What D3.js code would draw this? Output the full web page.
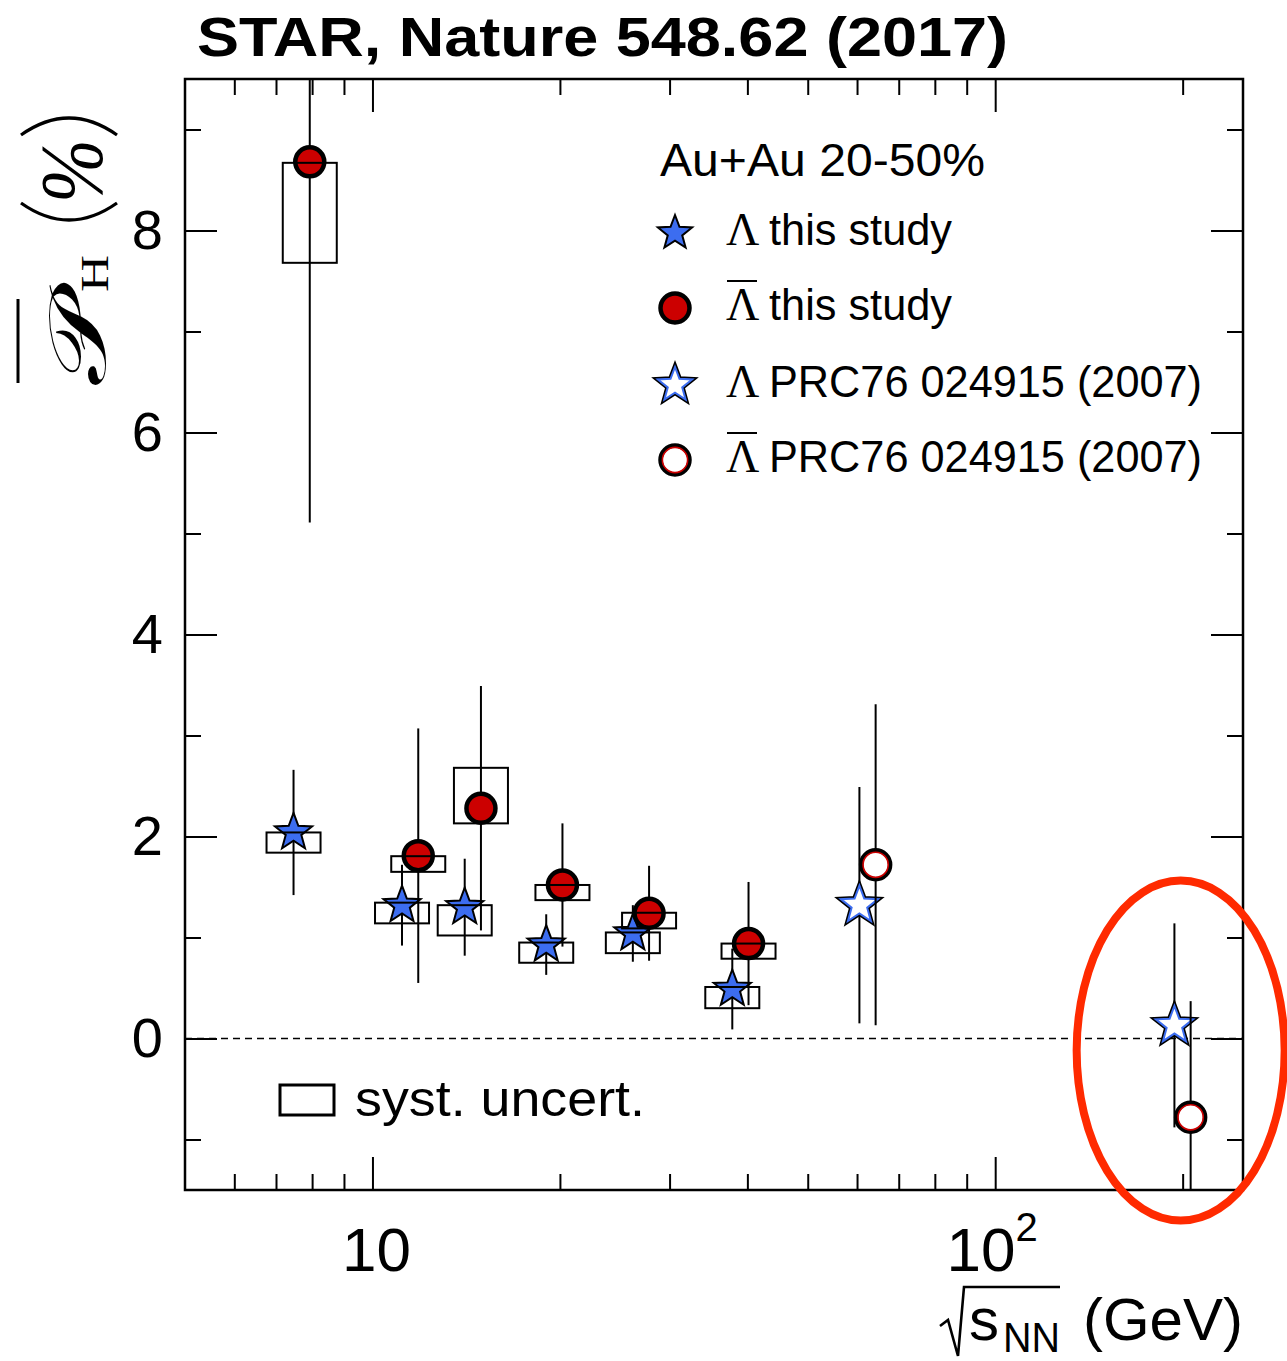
<!DOCTYPE html>
<html>
<head>
<meta charset="utf-8">
<script src="https://cdn.jsdelivr.net/npm/d3@7"></script>
<style>
  body { margin: 0; background: #fff; }
  svg { display: block; font-family: "Liberation Sans", Arial, Helvetica, sans-serif; }
  text { fill: #000; }
</style>
</head>
<body>
<svg id="chart" width="1287" height="1361"></svg>
<script>
// beam energies (GeV) of this study
const energies = [7.7, 11.5, 14.5, 19.6, 27, 39];

// Lambda, this study
const lamVal = [2.04, 1.32, 1.30, 0.93, 1.04, 0.49];
const lamStat = [0.62, 0.40, 0.48, 0.30, 0.28, 0.40];
const lamSystLo = [1.84, 1.14, 1.02, 0.75, 0.845, 0.30];
const lamSystHi = [2.04, 1.345, 1.32, 0.95, 1.05, 0.51];

// anti-Lambda, this study
const alamVal = [8.68, 1.81, 2.28, 1.52, 1.24, 0.94];
const alamStat = [3.57, 1.26, 1.21, 0.61, 0.47, 0.61];
const alamSystLo = [7.68, 1.65, 2.13, 1.37, 1.09, 0.79];
const alamSystHi = [8.67, 1.805, 2.68, 1.52, 1.245, 0.94];

// PRC76 024915 (2007)
const oldEnergies = [62.4, 200];
const oldLamVal = [1.32, 0.13];
const oldLamStat = [1.17, 1.01];
const oldAlamVal = [1.72, -0.78];
const oldAlamStat = [1.59, 1.15];

// axis ticks
const xMajor = [10, 100];
const xMinor = [6, 7, 8, 9, 20, 30, 40, 50, 60, 70, 80, 90, 200];
const yMajor = [0, 2, 4, 6, 8];
const yMinor = [-1, 1, 3, 5, 7, 9];

// points are shifted sideways so they don't overlap
const lamShift = 0.97;
const alamShift = 1.03;
const boxHalf = 1.105; // syst box half width, as a factor in energy

const blue = "#3c6df0";
const red = "#cc0000";
const serif = "'Liberation Serif', 'Times New Roman', serif";

const width = 1287;
const height = 1361;
const margin = { top: 79, right: 44, bottom: 171, left: 185 };

const svg = d3.select("#chart");

const x = d3.scaleLog()
  .domain([5, 250])
  .range([margin.left, width - margin.right]);

const y = d3.scaleLinear()
  .domain([-1.5, 9.5])
  .range([height - margin.bottom, margin.top]);

function starPath(R, r) {
  const pts = [];
  for (let i = 0; i < 10; i++) {
    const a = -Math.PI / 2 + i * Math.PI / 5;
    const rad = i % 2 === 0 ? R : r;
    pts.push([rad * Math.cos(a), rad * Math.sin(a)]);
  }
  return "M" + pts.map(function (p) { return p[0].toFixed(2) + "," + p[1].toFixed(2); }).join("L") + "Z";
}

const STAR = starPath(19.5, 8.2);
const STAR_LEG = starPath(18, 7.6);

function drawStar(g, cx, cy, open, d) {
  d = d || STAR;
  if (open) {
    g.append("path").attr("d", d).attr("transform", `translate(${cx},${cy})`)
      .attr("fill", "#fff").attr("stroke", "#000").attr("stroke-width", 5);
    g.append("path").attr("d", d).attr("transform", `translate(${cx},${cy})`)
      .attr("fill", "#fff").attr("stroke", blue).attr("stroke-width", 2);
  } else {
    g.append("path").attr("d", d).attr("transform", `translate(${cx},${cy})`)
      .attr("fill", blue).attr("stroke", "#000").attr("stroke-width", 2);
  }
}

function drawCircle(g, cx, cy, open) {
  g.append("circle").attr("cx", cx).attr("cy", cy).attr("r", 14.5)
    .attr("fill", open ? "#fff" : red).attr("stroke", "#000").attr("stroke-width", 4.5);
  if (open) {
    g.append("circle").attr("cx", cx).attr("cy", cy).attr("r", 12.6)
      .attr("fill", "none").attr("stroke", red).attr("stroke-width", 1.6);
  }
}

// clip to the frame
svg.append("clipPath").attr("id", "frame")
  .append("rect")
  .attr("x", margin.left).attr("y", margin.top)
  .attr("width", width - margin.left - margin.right)
  .attr("height", height - margin.top - margin.bottom);

// zero line
svg.append("line")
  .attr("x1", x(5)).attr("x2", x(250))
  .attr("y1", y(0)).attr("y2", y(0))
  .attr("stroke", "#000").attr("stroke-width", 1.4)
  .attr("stroke-dasharray", "7,5");

const plot = svg.append("g").attr("clip-path", "url(#frame)");

function drawSeries(ens, shift, vals, stat, lo, hi, marker, open) {
  const g = plot.append("g");
  ens.forEach(function (e, i) {
    const xe = e * shift;
    g.append("line")
      .attr("x1", x(xe)).attr("x2", x(xe))
      .attr("y1", y(vals[i] + stat[i])).attr("y2", y(vals[i] - stat[i]))
      .attr("stroke", "#000").attr("stroke-width", 2);
  });
  ens.forEach(function (e, i) {
    const xe = e * shift;
    if (marker === "star") drawStar(g, x(xe), y(vals[i]), open);
    else drawCircle(g, x(xe), y(vals[i]), open);
  });
  if (lo) {
    ens.forEach(function (e, i) {
      const xe = e * shift;
      g.append("rect")
        .attr("x", x(xe / boxHalf))
        .attr("y", y(hi[i]))
        .attr("width", x(xe * boxHalf) - x(xe / boxHalf))
        .attr("height", y(lo[i]) - y(hi[i]))
        .attr("fill", "none").attr("stroke", "#000").attr("stroke-width", 2);
    });
  }
}

drawSeries(oldEnergies, lamShift, oldLamVal, oldLamStat, null, null, "star", true);
drawSeries(energies, lamShift, lamVal, lamStat, lamSystLo, lamSystHi, "star", false);
drawSeries(oldEnergies, alamShift, oldAlamVal, oldAlamStat, null, null, "circle", true);
drawSeries(energies, alamShift, alamVal, alamStat, alamSystLo, alamSystHi, "circle", false);

// axes (ticks point inwards, ROOT style)
const x0 = height - margin.bottom;
const y0 = margin.top;

function styleAxis(g) {
  g.select(".domain").remove();
  g.selectAll(".tick line").attr("stroke", "#000").attr("stroke-width", 2);
}

svg.append("g").attr("transform", `translate(0,${x0})`)
  .call(d3.axisBottom(x).tickValues(xMajor).tickSize(-33).tickFormat("")).call(styleAxis);
svg.append("g").attr("transform", `translate(0,${x0})`)
  .call(d3.axisBottom(x).tickValues(xMinor).tickSize(-16).tickFormat("")).call(styleAxis);
svg.append("g").attr("transform", `translate(0,${y0})`)
  .call(d3.axisTop(x).tickValues(xMajor).tickSize(-33).tickFormat("")).call(styleAxis);
svg.append("g").attr("transform", `translate(0,${y0})`)
  .call(d3.axisTop(x).tickValues(xMinor).tickSize(-16).tickFormat("")).call(styleAxis);

const leftAxis = svg.append("g").attr("transform", `translate(${margin.left},0)`)
  .call(d3.axisLeft(y).tickValues(yMajor).tickSize(-32).tickPadding(22).tickFormat(d3.format("d")))
  .call(styleAxis);
leftAxis.selectAll(".tick text")
  .style("font-size", "56px")
  .style("font-family", "'Liberation Sans', Arial, sans-serif")
  .attr("fill", "#000");
svg.append("g").attr("transform", `translate(${margin.left},0)`)
  .call(d3.axisLeft(y).tickValues(yMinor).tickSize(-16).tickFormat("")).call(styleAxis);
svg.append("g").attr("transform", `translate(${width - margin.right},0)`)
  .call(d3.axisRight(y).tickValues(yMajor).tickSize(-32).tickFormat("")).call(styleAxis);
svg.append("g").attr("transform", `translate(${width - margin.right},0)`)
  .call(d3.axisRight(y).tickValues(yMinor).tickSize(-16).tickFormat("")).call(styleAxis);

// frame
svg.append("rect")
  .attr("x", margin.left).attr("y", margin.top)
  .attr("width", width - margin.left - margin.right)
  .attr("height", height - margin.top - margin.bottom)
  .attr("fill", "none").attr("stroke", "#000").attr("stroke-width", 2.5);

// x tick labels
svg.append("text")
  .attr("x", x(10) + 4).attr("y", 1271)
  .attr("text-anchor", "middle").style("font-size", "62px")
  .text("10");
const lab100 = svg.append("text")
  .attr("x", x(100) - 3).attr("y", 1271)
  .attr("text-anchor", "middle").style("font-size", "62px");
lab100.append("tspan").text("10");
lab100.append("tspan").attr("dy", -30).style("font-size", "40px").text("2");

// x title: sqrt(s_NN) (GeV)
svg.append("path")
  .attr("d", "M940,1326 L948,1320 L958,1356 L964,1287 L1060,1287")
  .attr("fill", "none").attr("stroke", "#000").attr("stroke-width", 2.6)
  .attr("stroke-linejoin", "miter");
svg.append("text").attr("x", 969).attr("y", 1340).style("font-size", "60px").text("s");
svg.append("text").attr("x", 1003).attr("y", 1352).style("font-size", "42px")
  .attr("textLength", 57).attr("lengthAdjust", "spacingAndGlyphs").text("NN");
svg.append("text").attr("x", 1243).attr("y", 1340).style("font-size", "60px")
  .attr("text-anchor", "end").text("(GeV)");

// y title: P_H (%), rotated
const yt = svg.append("g").attr("transform", "translate(105,385) rotate(-90)");
yt.append("text").attr("x", 0).attr("y", 0)
  .style("font-family", "'DejaVu Serif', 'Liberation Serif', serif")
  .style("font-size", "80px")
  .attr("textLength", 90).attr("lengthAdjust", "spacingAndGlyphs")
  .text("\u{1D4AB}");
yt.append("line").attr("x1", 2).attr("x2", 86).attr("y1", -87).attr("y2", -87)
  .attr("stroke", "#000").attr("stroke-width", 3);
yt.append("text").attr("x", 93).attr("y", 3)
  .style("font-family", serif)
  .style("font-size", "40px")
  .attr("textLength", 37).attr("lengthAdjust", "spacingAndGlyphs")
  .text("H");
// tall thin parentheses
yt.append("path").attr("d", "M182,-84 Q148,-36 182,12")
  .attr("fill", "none").attr("stroke", "#000").attr("stroke-width", 3.2);
yt.append("path").attr("d", "M250,-84 Q284,-36 250,12")
  .attr("fill", "none").attr("stroke", "#000").attr("stroke-width", 3.2);
yt.append("text").attr("x", 182).attr("y", -4)
  .style("font-family", serif)
  .style("font-style", "italic").style("font-size", "88px")
  .attr("textLength", 64).attr("lengthAdjust", "spacingAndGlyphs")
  .text("%");

// title
svg.append("text")
  .attr("x", 197).attr("y", 56)
  .style("font-size", "56px").style("font-weight", "bold")
  .attr("textLength", 811).attr("lengthAdjust", "spacingAndGlyphs")
  .text("STAR, Nature 548.62 (2017)");

// legend
svg.append("text").attr("x", 660).attr("y", 176).style("font-size", "46px")
  .attr("textLength", 325).attr("lengthAdjust", "spacingAndGlyphs")
  .text("Au+Au 20-50%");

const legendRows = [
  { marker: "star", open: false, bar: false, label: "this study", len: 183, y: 245 },
  { marker: "circle", open: false, bar: true, label: "this study", len: 183, y: 320 },
  { marker: "star", open: true, bar: false, label: "PRC76 024915 (2007)", len: 433, y: 397 },
  { marker: "circle", open: true, bar: true, label: "PRC76 024915 (2007)", len: 433, y: 472 }
];
const leg = svg.append("g");
legendRows.forEach(function (row) {
  const cy = row.y - 12;
  if (row.marker === "star") drawStar(leg, 675, cy, row.open, STAR_LEG);
  else drawCircle(leg, 675, cy, row.open);
  leg.append("text").attr("x", 726).attr("y", row.y)
    .style("font-family", serif)
    .style("font-size", "46px").text("\u039B");
  if (row.bar) {
    leg.append("line").attr("x1", 727).attr("x2", 757)
      .attr("y1", row.y - 39).attr("y2", row.y - 39)
      .attr("stroke", "#000").attr("stroke-width", 2);
  }
  leg.append("text").attr("x", 769).attr("y", row.y)
    .style("font-size", "44px")
    .attr("textLength", row.len).attr("lengthAdjust", "spacingAndGlyphs")
    .text(row.label);
});

// syst. uncert. legend
svg.append("rect").attr("x", 280).attr("y", 1085).attr("width", 54).attr("height", 30)
  .attr("fill", "none").attr("stroke", "#000").attr("stroke-width", 3);
svg.append("text").attr("x", 355).attr("y", 1116).style("font-size", "50px")
  .attr("textLength", 290).attr("lengthAdjust", "spacingAndGlyphs")
  .text("syst. uncert.");

// red hand-drawn ellipse around the 200 GeV points
svg.append("ellipse")
  .attr("cx", x(200) - 2).attr("cy", y(-0.12))
  .attr("rx", 104).attr("ry", 170)
  .attr("fill", "none").attr("stroke", "#ff2a00").attr("stroke-width", 8);
</script>
</body>
</html>
